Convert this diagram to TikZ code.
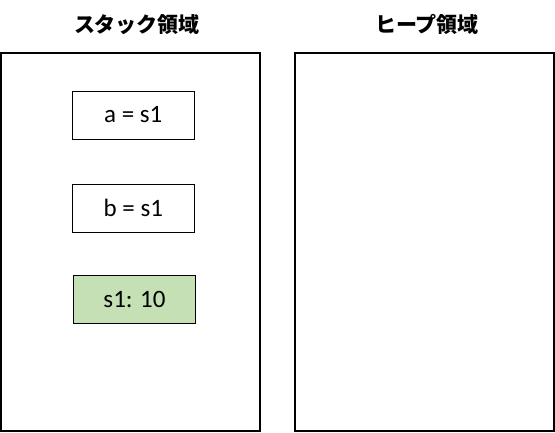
\documentclass[tikz,border=0pt]{standalone}
\usepackage{fontspec}
\setmainfont{Carlito}
\newfontfamily\cjk{Noto Sans CJK JP}
\definecolor{boxgreen}{HTML}{C5E0B4}
\begin{document}
\begin{tikzpicture}[x=1pt,y=-1pt,
  region/.style={draw=black, line width=1.2pt, minimum width=259pt, minimum height=378pt, inner sep=0pt},
  varbox/.style={draw=black, line width=0.9pt, minimum width=122pt, minimum height=48pt, inner sep=0pt, font=\fontsize{25}{28}\selectfont},
  title/.style={font=\cjk\bfseries\fontsize{21}{24}\selectfont, inner sep=0pt}]
\useasboundingbox (0,0) rectangle (555,432);
\node[region] (stack) at (130.5,242) {};
\node[region] (heap) at (424.5,242) {};
\node[title] (stitle) at (137,25) {スタック領域};
\node[title] (htitle) at (427,24) {ヒープ領域};
\node[varbox] (a) at (133.3,115) {a = s1};
\node[varbox] (b) at (133.3,208) {b = s1};
\node[varbox, fill=boxgreen] (s1) at (134.5,299.3) {s1: 10};
\end{tikzpicture}
\end{document}
